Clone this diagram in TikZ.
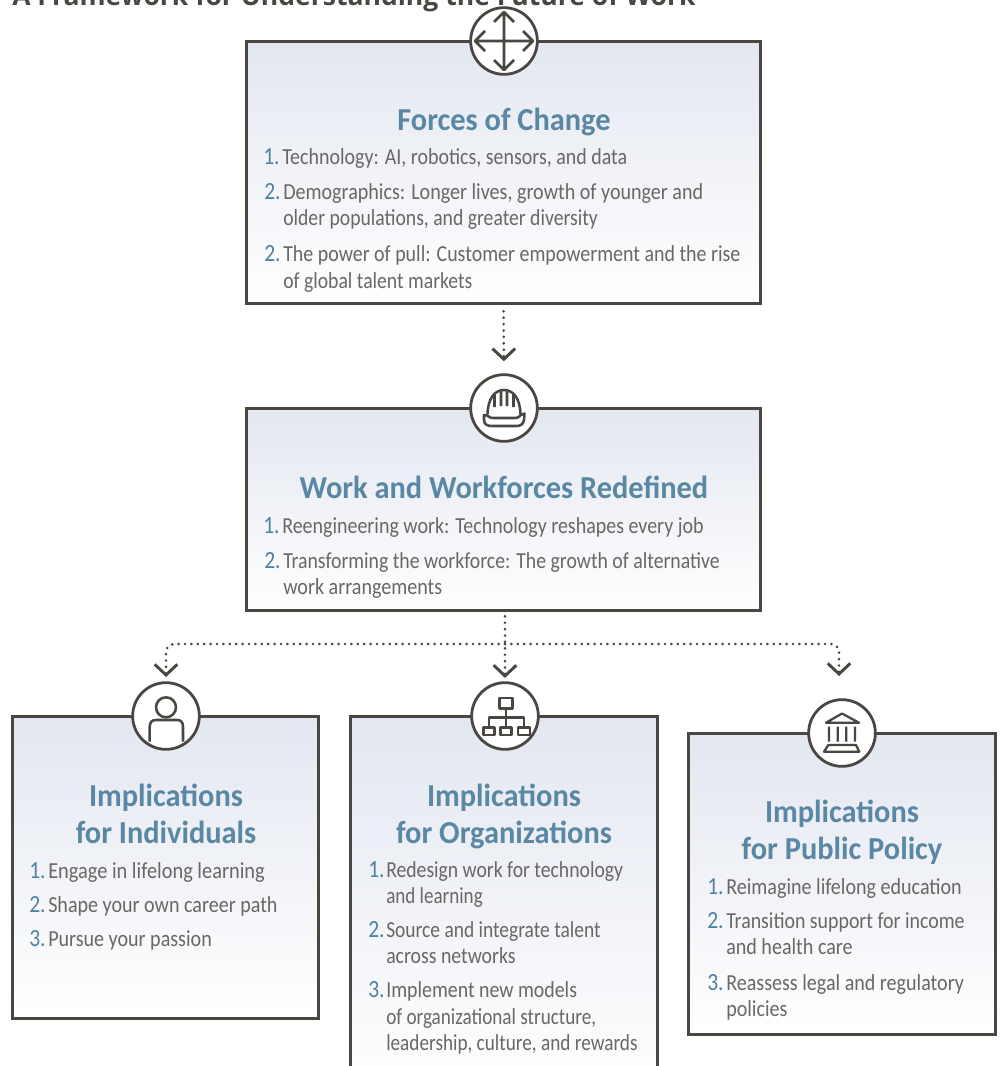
\documentclass[tikz,border=0pt]{standalone}
\usepackage{fontspec}
\setmainfont{Carlito}
\newfontfamily\bodyf[FakeStretch=0.875]{Carlito}
\newfontfamily\headf[FakeStretch=0.95]{Carlito}
\newfontfamily\topf{Open Sans}
\usetikzlibrary{arrows.meta}
\newcommand\nar[2]{\scalebox{#1}[1]{#2}}
\definecolor{ink}{HTML}{4A4641}
\definecolor{txt}{HTML}{6A6765}
\definecolor{numc}{HTML}{4F82A0}
\definecolor{headc}{HTML}{5A87A3}
\definecolor{boxtop}{HTML}{E3E7F0}
\tikzset{
  panel/.style={draw=ink,line width=2.25pt,rectangle,inner sep=0pt,top color=boxtop,bottom color=white,minimum width=#1},
  medal/.style={circle,draw=ink,line width=2.1pt,fill=white,minimum size=50pt,inner sep=0pt},
  glyph/.style={draw=ink,line width=1.9pt,line join=round},
  body/.style={anchor=base west,inner sep=0pt,text=txt,font=\bodyf\fontsize{17.2pt}{20pt}\selectfont},
  num/.style={anchor=base west,inner sep=0pt,text=numc,font=\bodyf\fontsize{18.5pt}{20pt}\selectfont},
  head/.style={anchor=base,inner sep=0pt,text=headc,font=\headf\fontsize{24pt}{28pt}\selectfont\bfseries},
  conn/.style={draw=ink,line width=2.2pt,line cap=round,dash pattern=on 0pt off 4.8pt,rounded corners=6pt,-{Straight Barb[length=8pt,width=17pt,line width=2.2pt]}},
}
\begin{document}
\begin{tikzpicture}[x=0.75pt,y=-0.75pt]
\useasboundingbox (0,0) rectangle (1000,1066);
\clip (0,0) rectangle (1000,1066);
\node[anchor=base west,inner sep=0pt,text=ink,font=\topf\fontsize{19.9pt}{24pt}\selectfont\bfseries] (maintitle) at (12,6) {A Framework for Understanding the Future of Work};
% panels
\node[panel=386pt,minimum height=197pt] (forces) at (503.5,172.5) {};
\node[panel=386pt,minimum height=152pt] (redef) at (503.5,509.5) {};
\node[panel=230pt,minimum height=226.5pt] (indiv) at (165.5,867) {};
\node[panel=230pt,minimum height=285pt] (orgs) at (504,906) {};
\node[panel=230pt,minimum height=225.75pt] (policy) at (842,883.5) {};
% medals
\node[medal] (mforces) at (504,41) {};
\node[medal] (mredef) at (504,408) {};
\node[medal] (mindiv) at (166,716) {};
\node[medal] (morgs) at (505,716) {};
\node[medal] (mpolicy) at (842,733) {};
% connectors
\draw[conn,shorten <=4.5pt,shorten >=9pt] (forces.south) -- (mredef.north);
\coordinate (branch) at (505,644);
\draw[conn,shorten <=3pt,shorten >=2.5pt] (redef.south -| morgs) -- (morgs.north);
\coordinate (la) at (166,677);
\coordinate (ra) at (839,676);
\draw[conn] (branch) -- (la |- branch) -- (la);
\draw[conn] (branch) -- (ra |- branch) -- (ra);
% icons
\draw[glyph] (504,12) -- (504,70) (475,41) -- (533,41)
 (494,22) -- (504,12) -- (514,22) (494,60) -- (504,70) -- (514,60)
 (485,31) -- (475,41) -- (485,51) (523,31) -- (533,41) -- (523,51);
\draw[glyph] (487.5,414) .. controls (488,398) and (495,390) .. (504,390) .. controls (513,390) and (520,398) .. (520.5,414)
 (494.5,407) -- (494.5,394) (501,406) -- (501,391) (507,406) -- (507,391) (513.5,407) -- (513.5,394)
 (484,415) .. controls (490,415) and (487,418) .. (494,418) -- (514,418) .. controls (521,418) and (518,415) .. (524.5,413.5) -- (524,420) .. controls (523,425) and (520,426) .. (516,426) -- (492,426) .. controls (488,426) and (484,425) .. (484,420) -- cycle;
\draw[glyph] (166,707.3) circle (10);
\draw[glyph] (149.7,741.5) -- (149.7,727) .. controls (149.7,722) and (152,720) .. (156,720) -- (177,720) .. controls (181,720) and (183,722) .. (183,727) -- (183,741.5);
\draw[glyph,line width=1.7pt] (499.5,698) rectangle (512.5,708.5) (506,708.5) -- (506,727.5) (489,727.5) -- (489,717.5) -- (524,717.5) -- (524,727.5)
 (483.5,727.5) rectangle (494.5,735) (500.5,727.5) rectangle (511.5,735) (518,727.5) rectangle (530,735);
\draw[glyph,line width=1.7pt] (842,713.5) -- (826,722.7) -- (859,722.7) -- cycle
 (829,726.5) -- (829,741.7) (837.7,726.5) -- (837.7,741.7) (846.3,726.5) -- (846.3,741.7) (855,726.5) -- (855,741.7)
 (828.3,745) -- (856,745) -- (859.3,751.7) -- (824,751.7) -- cycle;
% forces text
\node[head] (h1) at (504,131) {Forces of Change};
\node[num] (n1a) at (263,165) {1.};
\node[body] (t1a) at (282,165) {\nar{0.994}{Technology: AI, robotics, sensors, and data}};
\node[num] (n1b) at (264,200) {2.};
\node[body] (t1b) at (283,200) {Demographics: Longer lives, growth of younger and};
\node[body] (t1c) at (283,226) {\nar{0.98}{older populations, and greater diversity}};
\node[num] (n1c) at (264,261) {2.};
\node[body] (t1d) at (283,261) {\nar{0.993}{The power of pull: Customer empowerment and the rise}};
\node[body] (t1e) at (283,288) {\nar{0.98}{of global talent markets}};
% work text
\node[head] (h2) at (504,498) {Work and Workforces Redefined};
\node[num] (n2a) at (263,533) {1.};
\node[body] (t2a) at (282,533) {\nar{0.995}{Reengineering work: Technology reshapes every job}};
\node[num] (n2b) at (264,568) {2.};
\node[body] (t2b) at (283,568) {\nar{0.984}{Transforming the workforce: The growth of alternative}};
\node[body] (t2c) at (283,594) {work arrangements};
% individuals
\node[head] (h3a) at (166,806) {Implications};
\node[head] (h3b) at (166,843) {for Individuals};
\node[num] (n3a) at (29,878) {1.};
\node[body] (t3a) at (48,878) {\nar{1.015}{Engage in lifelong learning}};
\node[num] (n3b) at (29,912) {2.};
\node[body] (t3b) at (48,912) {Shape your own career path};
\node[num] (n3c) at (29,946) {3.};
\node[body] (t3c) at (48,946) {Pursue your passion};
% organizations
\node[head] (h4a) at (504,806) {Implications};
\node[head] (h4b) at (504,843) {for Organizations};
\node[num] (n4a) at (368,877) {1.};
\node[body] (t4a) at (386,877) {\nar{0.98}{Redesign work for technology}};
\node[body] (t4b) at (386,903) {\nar{0.95}{and learning}};
\node[num] (n4b) at (368,937) {2.};
\node[body] (t4c) at (386,937) {\nar{0.97}{Source and integrate talent}};
\node[body] (t4d) at (386,963) {\nar{0.985}{across networks}};
\node[num] (n4c) at (368,997) {3.};
\node[body] (t4e) at (386,997) {\nar{0.99}{Implement new models}};
\node[body] (t4f) at (386,1024) {\nar{0.955}{of organizational structure,}};
\node[body] (t4g) at (386,1050) {\nar{0.958}{leadership, culture, and rewards}};
% policy
\node[head] (h5a) at (842,822) {Implications};
\node[head] (h5b) at (842,859) {for Public Policy};
\node[num] (n5a) at (707,894) {1.};
\node[body] (t5a) at (726,894) {Reimagine lifelong education};
\node[num] (n5b) at (707,928) {2.};
\node[body] (t5b) at (726,928) {\nar{0.99}{Transition support for income}};
\node[body] (t5c) at (726,954) {and health care};
\node[num] (n5c) at (707,990) {3.};
\node[body] (t5d) at (726,990) {Reassess legal and regulatory};
\node[body] (t5e) at (726,1016) {policies};
\end{tikzpicture}
\end{document}
